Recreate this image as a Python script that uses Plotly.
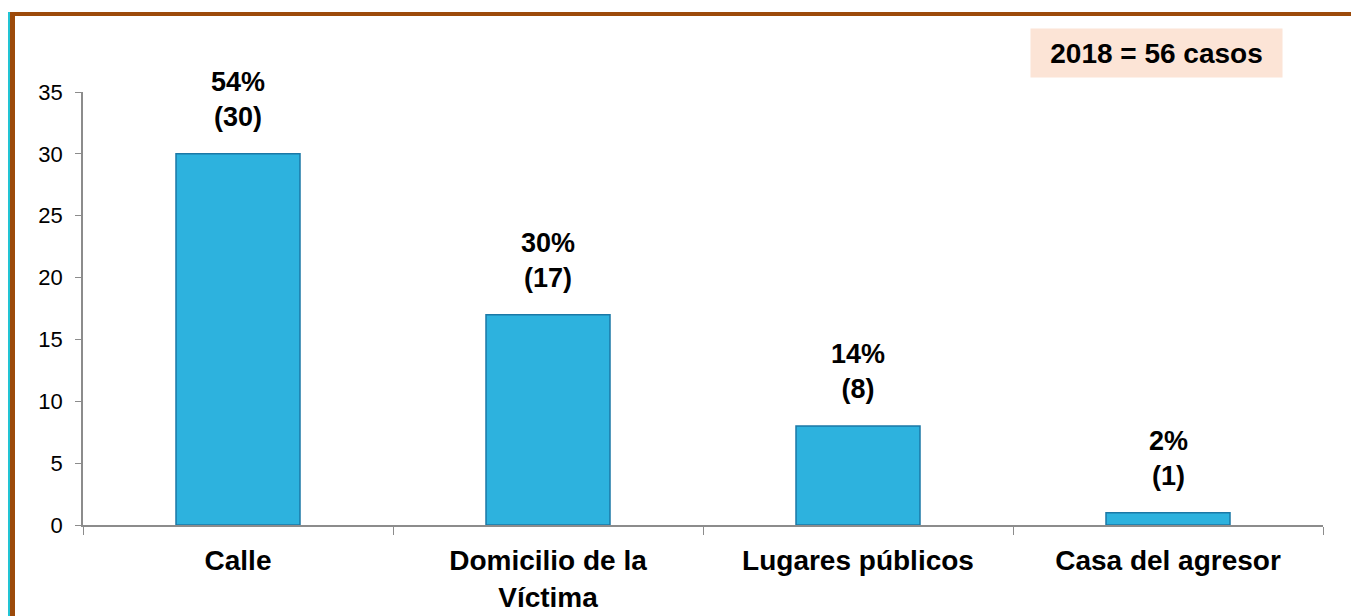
import plotly.graph_objects as go

categories = ["Calle", "Domicilio de la<br>Víctima", "Lugares públicos", "Casa del agresor"]
cases = [30, 17, 8, 1]
percents = [54, 30, 14, 2]
total_label = "2018 = 56 casos"

# page is drawn with an 8px body margin, so the figure starts at (8, 8)
FW, FH = 1351, 608
PL, PR, PT, PB = 83, 1323, 92, 525   # plot area in page pixels


def px_x(x):
    return (x - PL) / (PR - PL)


def px_y(y):
    return (PB - y) / (PB - PT)


FONT = "Liberation Sans, Arial, sans-serif"

fig = go.Figure()
fig.add_trace(go.Bar(
    x=categories, y=cases,
    width=0.4,
    marker=dict(color="#2DB2DE", line=dict(color="#1B78A6", width=1.5)),
    hoverinfo="skip",
))

# value labels above bars
for cat, p, c in zip(categories, percents, cases):
    fig.add_annotation(
        x=cat, y=c, text=f"<b>{p}%<br>({c})</b>",
        showarrow=False, yanchor="bottom", yshift=20,
        font=dict(size=27, color="black", family=FONT),
    )

fig.update_layout(
    width=FW, height=FH,
    margin=dict(l=PL - 8, r=FW + 8 - PR, t=PT - 8, b=FH + 8 - PB),
    plot_bgcolor="white", paper_bgcolor="white",
    showlegend=False,
    font=dict(family=FONT, color="black"),
    xaxis=dict(
        showline=True, linecolor="#8C8C8C", linewidth=1.5,
        ticks="outside", tickson="boundaries", ticklen=8, tickcolor="#8C8C8C",
        tickfont=dict(size=28, family=FONT),
        tickvals=categories, ticktext=[f"<b>{c}</b>" for c in categories],
        ticklabelstandoff=10,
        showgrid=False, automargin=False,
    ),
    yaxis=dict(
        range=[0, 35], dtick=5,
        showline=True, linecolor="#8C8C8C", linewidth=1.5,
        ticks="outside", ticklen=6, tickcolor="#8C8C8C",
        tickfont=dict(size=22, family=FONT), showgrid=False, zeroline=False,
        ticklabelstandoff=8, automargin=False,
    ),
)

fig.add_annotation(
    xref="paper", yref="paper", x=px_x(1156.5), y=px_y(53),
    xanchor="center", yanchor="middle",
    text=f"<b>{total_label}</b>", showarrow=False,
    font=dict(size=28, color="black", family=FONT),
    bgcolor="#FCE4D6", width=249, height=46,
)

# frame lines (top and left)
fig.add_shape(type="line", xref="paper", yref="paper",
              x0=px_x(9), x1=px_x(1370), y0=px_y(14), y1=px_y(14),
              line=dict(color="#9C4A0A", width=4))
fig.add_shape(type="line", xref="paper", yref="paper",
              x0=px_x(12.5), x1=px_x(12.5), y0=px_y(12), y1=px_y(630),
              line=dict(color="#9C4A0A", width=5))
fig.add_shape(type="line", xref="paper", yref="paper",
              x0=px_x(9), x1=px_x(9), y0=px_y(12), y1=px_y(630),
              line=dict(color="#22C4D4", width=2))

fig.write_html("out.html")
